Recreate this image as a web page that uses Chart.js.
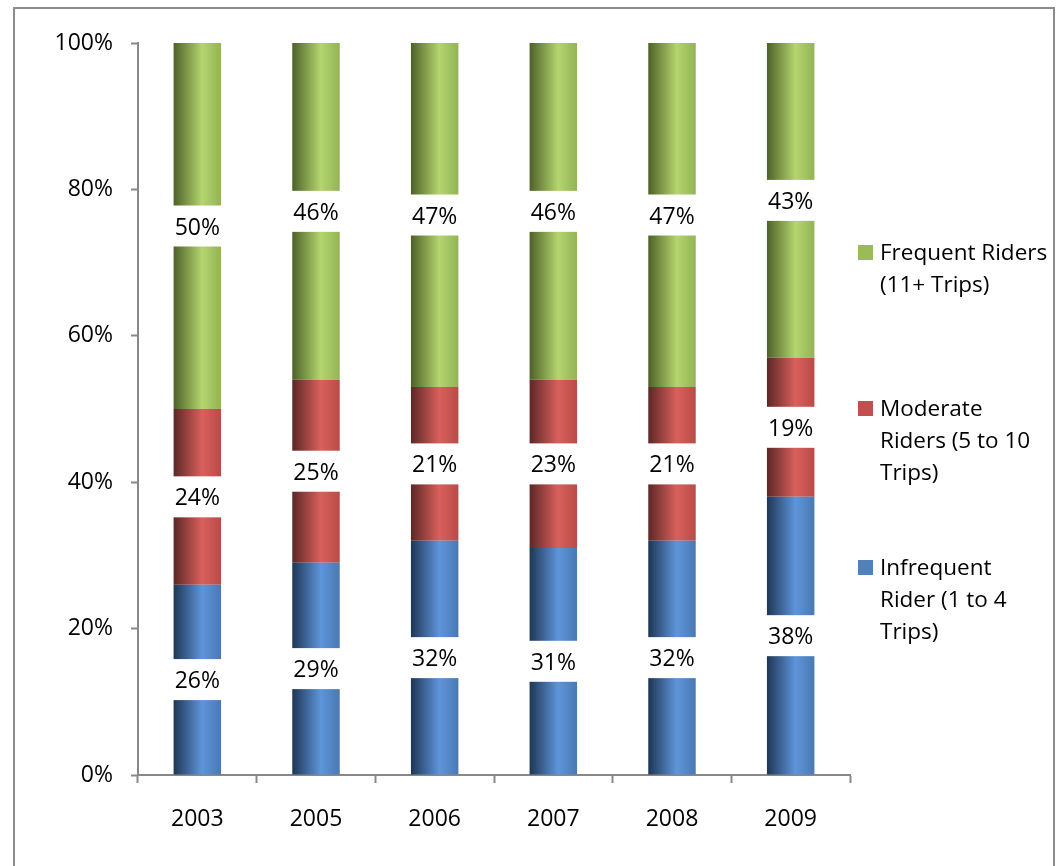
<!DOCTYPE html>
<html lang="en">
<head>
<meta charset="UTF-8" />
<title>Riders by trip frequency</title>
<script src="https://cdn.jsdelivr.net/npm/chart.js"></script>
<style>
  html, body {
    margin: 0; padding: 0;
    background: white;
    width: 1063px; height: 866px;
    overflow: hidden;
    font-family: 'Open Sans', sans-serif;
  }
  .frame {
    position: absolute;
    left: 13px; top: 7px;
    width: 1038px; height: 900px;
    border: 2px solid #8c8c8c;
  }
  #chartBox {
    position: absolute;
    left: 0; top: 0;
    width: 1063px; height: 866px;
  }
  .legend-item {
    position: absolute;
    left: 858px;
    font-size: 22.5px;
    line-height: 32px;
    color: #000;
  }
  .legend-item .swatch {
    position: absolute;
    left: 0; top: 9px;
    width: 15px; height: 15px;
  }
  .legend-item .text {
    margin-left: 22px;
    width: 185px;
  }
</style>
</head>
<body>
  <div class="frame"></div>
  <div id="chartBox"><canvas id="chart" width="1063" height="866"></canvas></div>

  <div class="legend-item" style="top:236px">
    <div class="swatch" style="background:#9bbb59"></div>
    <div class="text">Frequent Riders<br>(11+ Trips)</div>
  </div>
  <div class="legend-item" style="top:392px">
    <div class="swatch" style="background:#c0504d"></div>
    <div class="text">Moderate<br>Riders (5 to 10<br>Trips)</div>
  </div>
  <div class="legend-item" style="top:551px">
    <div class="swatch" style="background:#4f81bd"></div>
    <div class="text">Infrequent<br>Rider (1 to 4<br>Trips)</div>
  </div>

  <script>
    // datos
    const years = ['2003', '2005', '2006', '2007', '2008', '2009'];
    const infrequent = [26, 29, 32, 31, 32, 38];
    const moderate = [24, 25, 21, 23, 21, 19];
    const frequent = [50, 46, 47, 46, 47, 43];
    const yTicks = [0, 20, 40, 60, 80, 100];

    // sombreado tipo cilindro: oscuro, claro, medio
    const shades = {
      blue:  ['#1e3655', '#5e95da', '#4a79b3'],
      red:   ['#5c2726', '#d9605c', '#b94b48'],
      green: ['#4d6127', '#b4d56f', '#93b356']
    };

    function barFill(name) {
      return function(context) {
        const chart = context.chart;
        const x = chart.scales.x;
        const s = shades[name];
        if (context.type !== 'data' || !chart.chartArea || !x) return s[1];
        const center = x.getPixelForValue(context.dataIndex);
        const half = (x.width / years.length) * 0.4 / 2;
        const g = chart.ctx.createLinearGradient(center - half, 0, center + half, 0);
        g.addColorStop(0, s[0]);
        g.addColorStop(0.6, s[1]);
        g.addColorStop(1, s[2]);
        return g;
      };
    }

    // etiquetas con fondo blanco en el centro de cada segmento
    const labelPlugin = {
      id: 'segmentLabels',
      afterDatasetsDraw(chart) {
        const ctx = chart.ctx;
        ctx.save();
        ctx.font = '23px "Open Sans"';
        ctx.textAlign = 'center';
        ctx.textBaseline = 'middle';
        chart.data.datasets.forEach((ds, i) => {
          const meta = chart.getDatasetMeta(i);
          meta.data.forEach((bar, j) => {
            const mid = (bar.y + bar.base) / 2;
            const w = bar.width + 2;
            ctx.fillStyle = 'white';
            ctx.fillRect(bar.x - w / 2, mid - 20.5, w, 41);
            ctx.fillStyle = '#000';
            ctx.fillText(ds.data[j] + '%', bar.x, mid + 2);
          });
        });
        ctx.restore();
      }
    };

    Chart.defaults.font.family = '"Open Sans", sans-serif';
    Chart.defaults.font.size = 23;
    Chart.defaults.color = '#000';

    new Chart(document.getElementById('chart'), {
      type: 'bar',
      data: {
        labels: years,
        datasets: [
          { label: 'Infrequent Rider (1 to 4 Trips)', data: infrequent, backgroundColor: barFill('blue') },
          { label: 'Moderate Riders (5 to 10 Trips)', data: moderate, backgroundColor: barFill('red') },
          { label: 'Frequent Riders (11+ Trips)', data: frequent, backgroundColor: barFill('green') }
        ]
      },
      options: {
        responsive: false,
        animation: false,
        events: [],
        categoryPercentage: 1,
        barPercentage: 0.4,
        layout: { padding: { left: 0, top: 43, right: 213, bottom: 0 } },
        plugins: {
          legend: { display: false },
          tooltip: { enabled: false }
        },
        scales: {
          x: {
            stacked: true,
            afterFit(scale) { scale.height = 91; },
            grid: {
              offset: true,
              drawOnChartArea: false,
              drawTicks: true,
              tickLength: 8,
              tickWidth: 2,
              tickColor: '#888'
            },
            border: { display: true, color: '#888', width: 2 },
            ticks: { padding: 23 }
          },
          y: {
            stacked: true,
            min: 0,
            max: 100,
            afterFit(scale) { scale.width = 138; },
            afterBuildTicks(scale) { scale.ticks = yTicks.map(v => ({ value: v })); },
            grid: {
              drawOnChartArea: false,
              tickLength: 7,
              tickWidth: 2,
              tickColor: '#888'
            },
            border: { display: true, color: '#888', width: 2 },
            ticks: {
              padding: 18,
              callback: v => v + '%'
            }
          }
        }
      },
      plugins: [labelPlugin]
    });
  </script>
</body>
</html>
